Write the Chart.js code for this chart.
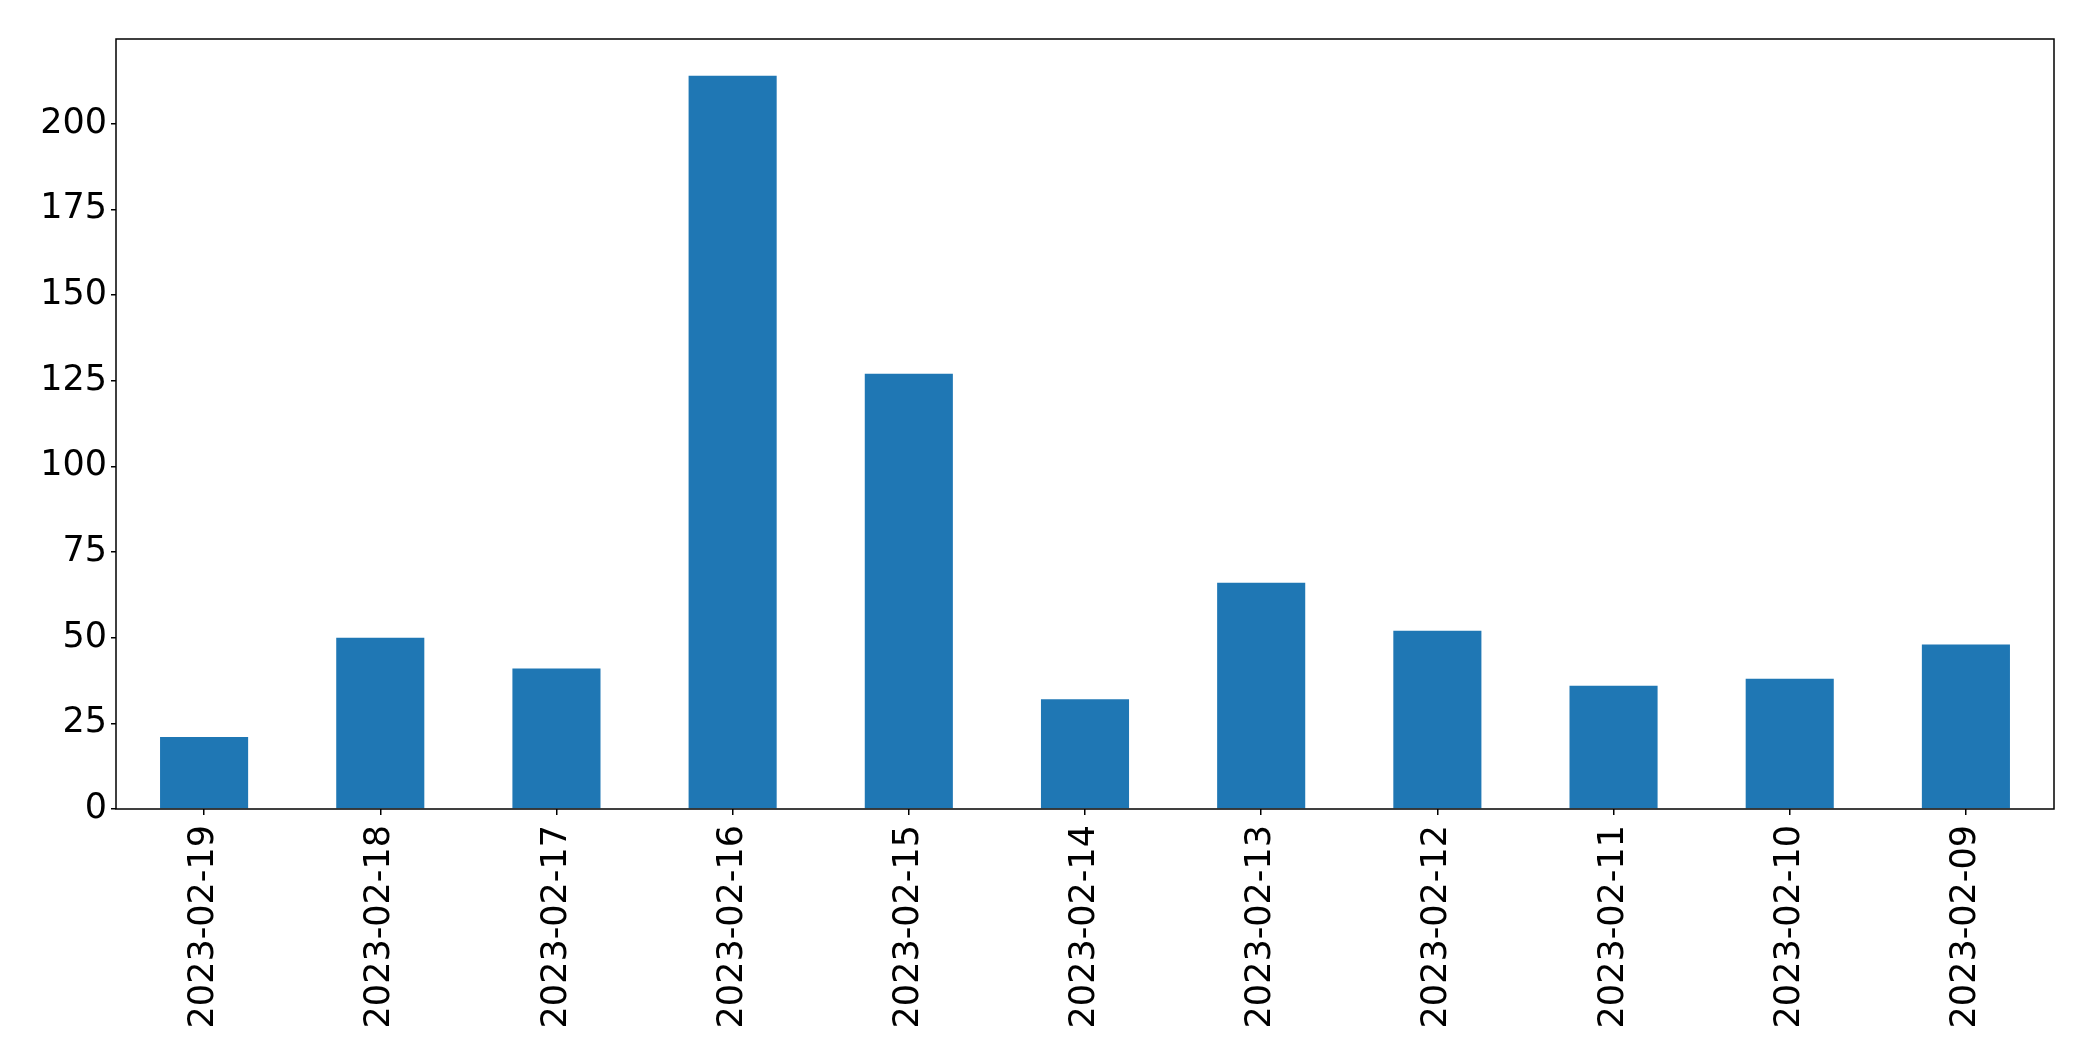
<!DOCTYPE html>
<html>
<head>
<meta charset="utf-8">
<script src="https://cdn.jsdelivr.net/npm/chart.js@4/dist/chart.umd.min.js"></script>
<style>
    html, body { margin: 0; padding: 0; background: #ffffff; }
    #wrap { width: 2093px; height: 1061px; }
</style>
</head>
<body>
<div id="wrap"><canvas id="barChart" width="2093" height="1061"></canvas></div>
<script>
// --- Data ---
const dates = ['2023-02-19', '2023-02-18', '2023-02-17', '2023-02-16', '2023-02-15', '2023-02-14',
               '2023-02-13', '2023-02-12', '2023-02-11', '2023-02-10', '2023-02-09'];
const counts = [21, 50, 41, 214, 127, 32, 66, 52, 36, 38, 48];
const yTicks = [0, 25, 50, 75, 100, 125, 150, 175, 200];

const FONT = { family: "'DejaVu Sans', sans-serif", size: 35 };

// white background + box frame around the plot area
const framePlugin = {
    id: 'frame',
    beforeDraw(chart) {
        const c = chart.ctx;
        c.save();
        c.fillStyle = '#ffffff';
        c.fillRect(0, 0, chart.width, chart.height);
        c.restore();
    },
    afterDraw(chart) {
        const a = chart.chartArea;
        const c = chart.ctx;
        c.save();
        c.strokeStyle = '#000000';
        c.lineWidth = 1.5;
        c.strokeRect(a.left, a.top, a.right - a.left, a.bottom - a.top);
        c.restore();
    }
};

new Chart(document.getElementById('barChart'), {
    type: 'bar',
    data: {
        labels: dates,
        datasets: [{
            data: counts,
            backgroundColor: '#1f77b4',
            borderWidth: 0,
            barPercentage: 0.5,
            categoryPercentage: 1.0
        }]
    },
    options: {
        responsive: false,
        animation: false,
        layout: { padding: { top: 39, right: 39, left: 0, bottom: 0 } },
        plugins: {
            legend: { display: false },
            tooltip: { enabled: false }
        },
        scales: {
            x: {
                grid: { display: true, offset: false, drawOnChartArea: false, tickLength: 6, color: '#000000', lineWidth: 1.5 },
                border: { display: false },
                ticks: {
                    font: FONT,
                    color: '#000000',
                    minRotation: 90,
                    maxRotation: 90,
                    padding: 10
                },
                afterFit(scale) { scale.height = 252; }
            },
            y: {
                min: 0,
                max: Math.max(...counts) * 1.05,
                grid: { display: true, drawOnChartArea: false, tickLength: 5, color: '#000000', lineWidth: 1.5 },
                border: { display: false },
                ticks: {
                    font: FONT,
                    color: '#000000',
                    padding: 4
                },
                afterBuildTicks(scale) {
                    scale.ticks = yTicks.map(v => ({ value: v }));
                },
                afterFit(scale) { scale.width = 116; }
            }
        }
    },
    plugins: [framePlugin]
});
</script>
</body>
</html>
